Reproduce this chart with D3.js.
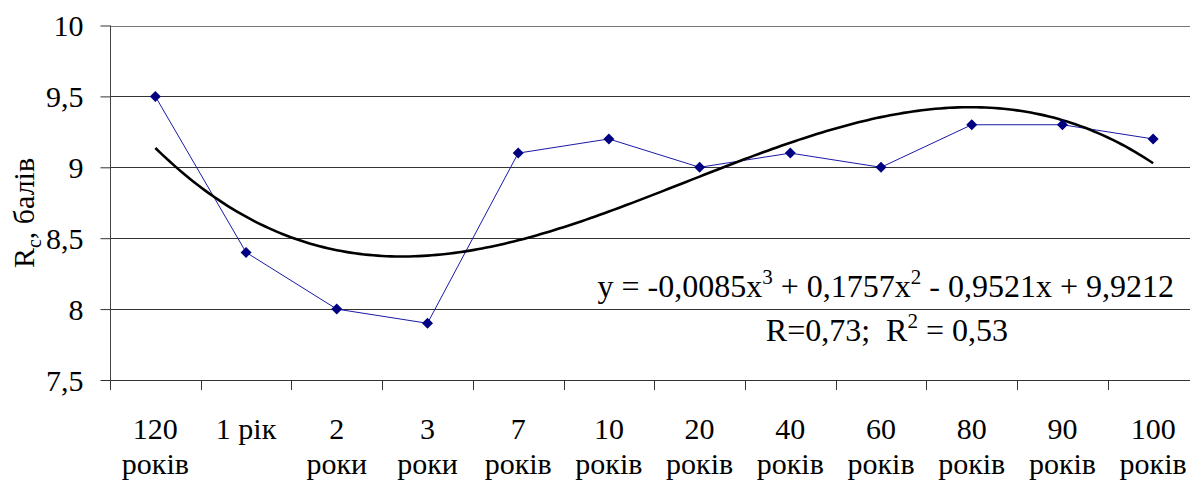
<!DOCTYPE html>
<html>
<head>
<meta charset="utf-8">
<script src="https://cdn.jsdelivr.net/npm/d3@7"></script>
<style>
  body { margin: 0; background: #fff; }
</style>
</head>
<body>
<div id="chart"></div>
<script>
// data
var categories = ["120 років", "1 рік", "2 роки", "3 роки", "7 років", "10 років",
  "20 років", "40 років", "60 років", "80 років", "90 років", "100 років"];
var labelTop = ["120", "1 рік", "2", "3", "7", "10", "20", "40", "60", "80", "90", "100"];
var labelBottom = ["років", "", "роки", "роки", "років", "років", "років", "років", "років", "років", "років", "років"];
var values = [9.5, 8.4, 8.0, 7.9, 9.1, 9.2, 9.0, 9.1, 9.0, 9.3, 9.3, 9.2];
var yTicks = [7.5, 8, 8.5, 9, 9.5, 10];

var drawChart = function () {
  var width = 1190, height = 484;
  var m = { left: 110, top: 25.5, bottom: 380, right: 1198.5 };
  var serif = '"Liberation Serif"';

  var svg = d3.select('#chart').append('svg')
    .attr('width', width)
    .attr('height', height);

  var x = d3.scaleBand().domain(categories).range([m.left, m.right]);
  var y = d3.scaleLinear().domain([7.5, 10]).range([m.bottom, m.top]);
  var cx = function (d) { return x(d) + x.bandwidth() / 2; };
  var fmt = function (d) { return String(d).replace('.', ','); };

  // gridlines
  svg.selectAll('line.grid').data(yTicks.slice(1))
    .enter().append('line')
    .attr('class', 'grid')
    .attr('x1', m.left).attr('x2', width)
    .attr('y1', function (d) { return Math.round(y(d)) + 0.5; })
    .attr('y2', function (d) { return Math.round(y(d)) + 0.5; })
    .attr('stroke', function (d) { return d === 10 ? '#777' : '#333'; })
    .attr('stroke-width', 1);

  // y axis
  var yAxis = svg.append('g')
    .attr('transform', 'translate(' + (m.left + 0.5) + ',0)')
    .call(d3.axisLeft(y).tickValues(yTicks).tickSize(10).tickPadding(17).tickFormat(fmt));
  yAxis.select('.domain').attr('stroke', '#444').attr('d', 'M0,' + m.top + 'V' + (m.bottom + 10));
  yAxis.selectAll('.tick line').attr('stroke', '#333');
  yAxis.selectAll('.tick text')
    .style('font-family', serif)
    .style('font-size', '30px')
    .attr('fill', '#000')
    .attr('dy', '0.34em');

  // x axis line and ticks between categories
  svg.append('line')
    .attr('x1', m.left).attr('x2', width)
    .attr('y1', m.bottom + 0.5).attr('y2', m.bottom + 0.5)
    .attr('stroke', '#333');
  svg.selectAll('line.xtick').data(categories)
    .enter().append('line')
    .attr('class', 'xtick')
    .attr('x1', function (d) { return Math.round(x(d)) + 0.5; })
    .attr('x2', function (d) { return Math.round(x(d)) + 0.5; })
    .attr('y1', m.bottom).attr('y2', m.bottom + 10)
    .attr('stroke', '#333');

  // x labels
  var xl = svg.selectAll('g.xlab').data(categories)
    .enter().append('g').attr('class', 'xlab');
  xl.append('text')
    .attr('x', cx).attr('y', 439)
    .attr('text-anchor', 'middle')
    .style('font-family', serif).style('font-size', '30px')
    .text(function (d, i) { return labelTop[i]; });
  xl.append('text')
    .attr('x', cx).attr('y', 474)
    .attr('text-anchor', 'middle')
    .style('font-family', serif).style('font-size', '30px')
    .text(function (d, i) { return labelBottom[i]; });

  // y title
  var yt = svg.append('text')
    .attr('transform', 'translate(34,213) rotate(-90)')
    .attr('text-anchor', 'middle')
    .style('font-family', serif).style('font-size', '30px');
  yt.append('tspan').text('R');
  yt.append('tspan').attr('dy', 7).style('font-size', '20px').text('c');
  yt.append('tspan').attr('dy', -7).text(', балів');

  // cubic trend (least squares on x = 1..n)
  var n = values.length;
  var A = [], b = [];
  for (var r = 0; r < 4; r++) { A.push([0, 0, 0, 0]); b.push(0); }
  values.forEach(function (v, i) {
    var t = i + 1;
    for (var r = 0; r < 4; r++) {
      for (var c = 0; c < 4; c++) A[r][c] += Math.pow(t, r + c);
      b[r] += v * Math.pow(t, r);
    }
  });
  for (var k = 0; k < 4; k++) {
    for (var r2 = k + 1; r2 < 4; r2++) {
      var f = A[r2][k] / A[k][k];
      for (var c2 = k; c2 < 4; c2++) A[r2][c2] -= f * A[k][c2];
      b[r2] -= f * b[k];
    }
  }
  var coef = [0, 0, 0, 0];
  for (var k2 = 3; k2 >= 0; k2--) {
    var s = b[k2];
    for (var c3 = k2 + 1; c3 < 4; c3++) s -= A[k2][c3] * coef[c3];
    coef[k2] = s / A[k2][k2];
  }
  var trend = d3.range(1, n + 0.001, 0.05).map(function (t) {
    return [t, coef[0] + coef[1] * t + coef[2] * t * t + coef[3] * t * t * t];
  });
  var xt = d3.scaleLinear().domain([1, n]).range([cx(categories[0]), cx(categories[n - 1])]);

  // data line
  svg.append('path')
    .datum(values)
    .attr('fill', 'none')
    .attr('stroke', '#1a1aa6')
    .attr('stroke-width', 1)
    .attr('d', d3.line()
      .x(function (d, i) { return cx(categories[i]); })
      .y(function (d) { return y(d); }));

  // trend line
  svg.append('path')
    .datum(trend)
    .attr('fill', 'none')
    .attr('stroke', '#000')
    .attr('stroke-width', 2.6)
    .attr('d', d3.line()
      .x(function (d) { return xt(d[0]); })
      .y(function (d) { return y(d[1]); }));

  // markers
  svg.selectAll('path.mark').data(values)
    .enter().append('path')
    .attr('class', 'mark')
    .attr('d', 'M0,-5.5L5.5,0L0,5.5L-5.5,0Z')
    .attr('fill', '#000080')
    .attr('transform', function (d, i) {
      return 'translate(' + cx(categories[i]) + ',' + y(d) + ')';
    });

  // equation
  var eq = svg.append('text')
    .attr('x', 1174).attr('y', 297)
    .attr('text-anchor', 'end')
    .style('font-family', serif).style('font-size', '32px');
  eq.append('tspan').text('y = -0,0085x');
  eq.append('tspan').attr('dy', -13).style('font-size', '21px').text('3');
  eq.append('tspan').attr('dy', 13).text(' + 0,1757x');
  eq.append('tspan').attr('dy', -13).style('font-size', '21px').text('2');
  eq.append('tspan').attr('dy', 13).text(' - 0,9521x + 9,9212');

  var rr = svg.append('text')
    .attr('x', 1008).attr('y', 341)
    .attr('text-anchor', 'end')
    .style('font-family', serif).style('font-size', '32px')
    .style('white-space', 'pre');
  rr.append('tspan').text('R=0,73;  R');
  rr.append('tspan').attr('dy', -13).style('font-size', '21px').text('2');
  rr.append('tspan').attr('dy', 13).text(' = 0,53');
};
drawChart();
</script>
</body>
</html>
